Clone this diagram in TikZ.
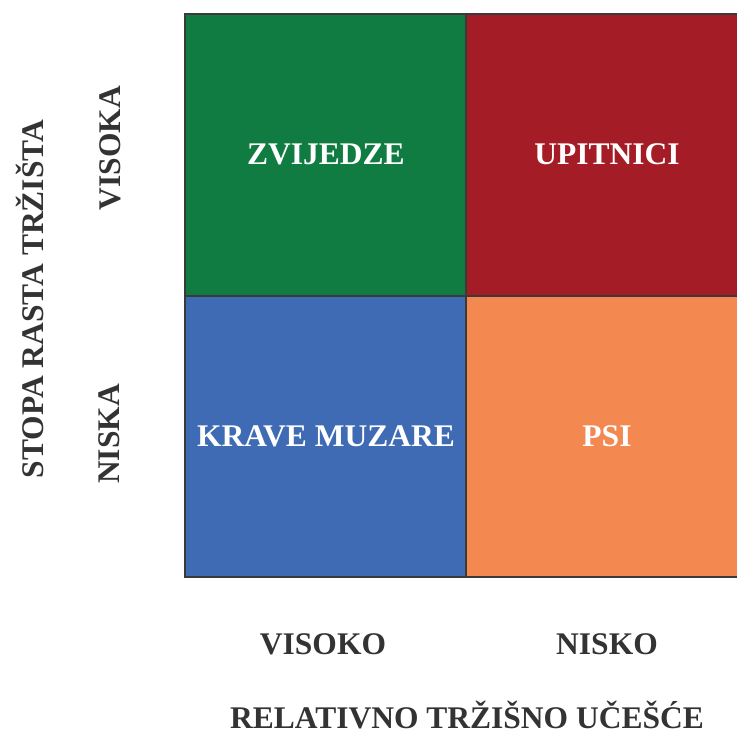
\documentclass[tikz,border=0pt]{standalone}
\usepackage{fontspec}
\setmainfont{Liberation Serif}
\definecolor{cgreen}{HTML}{107C41}
\definecolor{cred}{HTML}{A31C26}
\definecolor{cblue}{HTML}{3F6BB4}
\definecolor{corange}{HTML}{F38851}
\definecolor{ctext}{HTML}{333333}
\definecolor{cline}{HTML}{3A3A3A}
\begin{document}
\begin{tikzpicture}[x=1pt,y=-1pt,
  cell/.style={draw=cline,line width=1.3pt},
  qlabel/.style={text=white,font=\bfseries\fontsize{31.5}{34}\selectfont,inner sep=0pt,anchor=base},
  axlabel/.style={text=ctext,font=\bfseries\fontsize{31.5}{34}\selectfont,inner sep=0pt,anchor=base}]
\useasboundingbox (0,0) rectangle (737,735);
\fill[cgreen] (185,14) rectangle (466,296);
\fill[cred] (466,14) rectangle (740,296);
\fill[cblue] (185,296) rectangle (466,577);
\fill[corange] (466,296) rectangle (740,577);
\draw[cell] (740,14) -- (185,14) -- (185,577) -- (740,577);
\draw[cell] (466,14) -- (466,577);
\draw[cell] (185,296) -- (740,296);
\node[qlabel] (zv) at (326,165) {ZVIJEDZE};
\node[qlabel] (up) at (607,165) {UPITNICI};
\node[qlabel] (km) at (326,447) {KRAVE MUZARE};
\node[qlabel] (psi) at (607,447) {PSI};
\node[axlabel,rotate=90] (stopa) at (43,299) {STOPA RASTA TRŽIŠTA};
\node[axlabel,rotate=90] (visoka) at (120,148) {VISOKA};
\node[axlabel,rotate=90] (niska) at (119,434) {NISKA};
\node[axlabel] (visoko) at (323,654) {VISOKO};
\node[axlabel] (nisko) at (607,654) {NISKO};
\node[axlabel,text depth=0pt] (rel) at (467,728) {RELATIVNO TRŽIŠNO UČEŠĆE};
\end{tikzpicture}
\end{document}
